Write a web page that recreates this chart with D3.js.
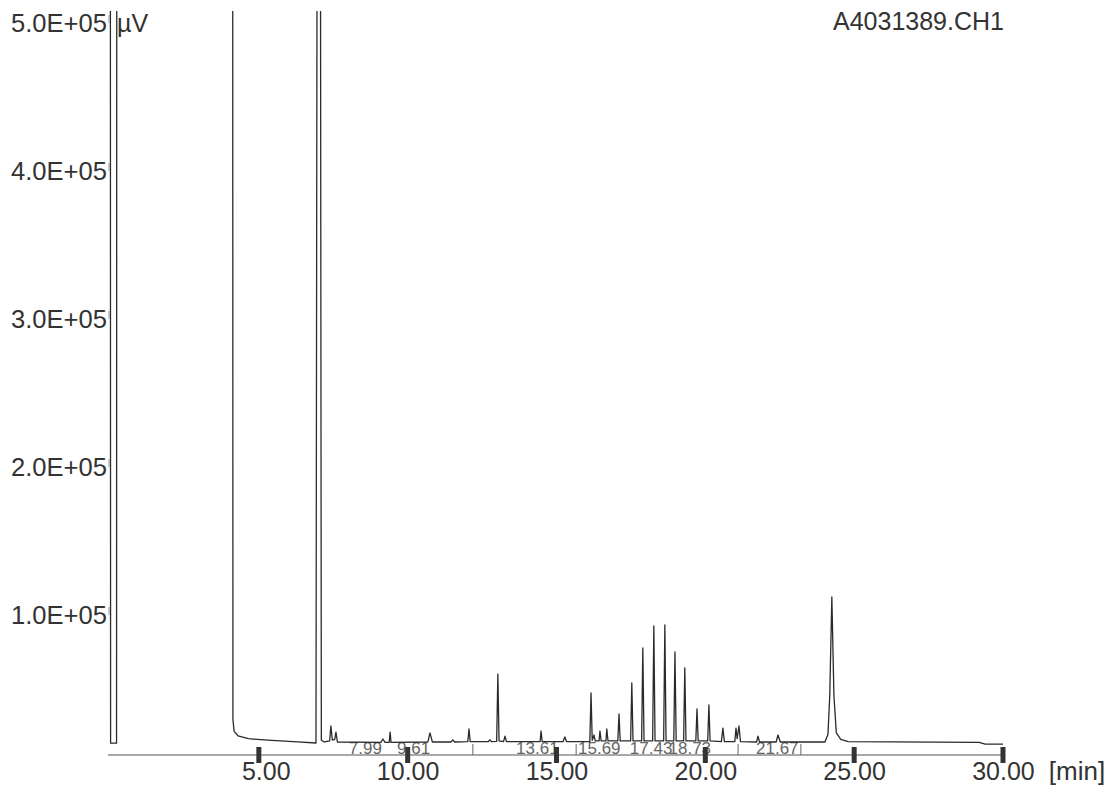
<!DOCTYPE html>
<html>
<head>
<meta charset="utf-8">
<script src="https://cdn.jsdelivr.net/npm/d3@7"></script>
<style>
   body { margin: 0; background: #fff; }
   svg { display: block; font-family: "Liberation Sans", Arial, sans-serif; }
</style>
</head>
<body>
<svg id="chart" width="1117" height="789"></svg>
<script>

// retention time (min) of each vertex
const traceTime = [
   0.00, 0.02, 0.22, 0.24, 4.11, 4.13, 4.17, 4.30, 4.65, 5.30, 6.30, 6.92,
   7.02, 7.10, 7.20, 7.38, 7.42, 7.47, 7.55, 7.59, 7.64,
   9.10, 9.17, 9.24, 9.38, 9.41, 9.44,
   10.68, 10.75, 10.83, 11.45, 11.52, 11.58, 12.02, 12.06, 12.10, 12.70, 12.76, 12.82,
   12.99, 13.03, 13.07, 13.22, 13.27, 13.32, 14.45, 14.48, 14.52, 15.22, 15.28, 15.34,
   16.12, 16.16, 16.20, 16.26, 16.30, 16.43, 16.46, 16.50, 16.66, 16.69, 16.73,
   17.06, 17.10, 17.14, 17.49, 17.53, 17.57, 17.86, 17.90, 17.94,
   18.23, 18.27, 18.31, 18.60, 18.64, 18.68, 18.94, 18.98, 19.02,
   19.27, 19.31, 19.35, 19.68, 19.72, 19.76, 20.08, 20.12, 20.16,
   20.54, 20.59, 20.64, 20.99, 21.03, 21.07, 21.13, 21.18,
   21.72, 21.77, 21.82, 22.38, 22.44, 22.52,
   24.02, 24.12, 24.18, 24.25, 24.32, 24.40, 24.55, 24.80, 29.20, 29.40, 30.00
];

// detector signal (µV) at the same vertices, off-scale peaks clipped at the top
const traceSignal = [
   1500000, 8000, 8000, 1500000, 1500000, 24000, 16000, 13000, 11000, 10000, 8800, 8100,
   1500000, 10000, 8800, 9500, 19600, 10100, 10500, 15500, 8800,
   8500, 10800, 8500, 8500, 15500, 8500,
   8800, 14900, 8800, 8800, 10100, 8800, 9000, 17600, 9000, 9000, 10100, 9000,
   9200, 54700, 9500, 9000, 12800, 9000, 9000, 16200, 9000, 9000, 12200, 9000,
   9000, 41900, 10000, 13500, 9500, 9500, 16200, 9500, 9500, 17600, 9500,
   9500, 27700, 9500, 9500, 48700, 9500, 9500, 72300, 9500,
   9500, 87200, 9500, 9500, 87900, 9500, 9500, 69600, 9500,
   9500, 58800, 9500, 9500, 31100, 9500, 9500, 33800, 9500,
   9000, 18200, 9000, 9000, 18200, 11000, 19600, 9000,
   8800, 12800, 8800, 8800, 13500, 8800,
   8800, 14000, 40000, 106800, 40000, 15000, 10500, 9000, 8500, 7400, 7400
];

const peakLabels = ['7.99', '9.61', '13.61', '15.69', '17.43', '18.73', '21.67'];
const eventMarks = [12.19, 15.66, 21.10, 23.21];

const xTicks = [5, 10, 15, 20, 25, 30];
const yTicks = [1e5, 2e5, 3e5, 4e5, 5e5];

const fileName = 'A4031389.CH1';

let x = d3.scaleLinear().domain([0, 30]).range([110, 1003]);
let y = d3.scaleLinear().domain([0, 5e5]).range([755, 15]);

let svg = d3.select('#chart');

svg.append('rect')
   .attr('width', 1117).attr('height', 789)
   .style('fill', '#fff');

svg.append('defs').append('clipPath').attr('id', 'plot')
   .append('rect')
   .attr('x', 100).attr('y', 11)
   .attr('width', 920).attr('height', 750);

// baseline / time axis
svg.append('line')
   .attr('x1', 108).attr('x2', x(30) + 2)
   .attr('y1', y(0)).attr('y2', y(0))
   .style('stroke', '#555')
   .style('stroke-width', 1.2);

// event marks in the label band
svg.selectAll('.event')
   .data(eventMarks).enter()
   .append('line').attr('class', 'event')
   .attr('x1', d => x(d)).attr('x2', d => x(d))
   .attr('y1', y(0) - 11).attr('y2', y(0))
   .style('stroke', '#666')
   .style('stroke-width', 1);

// retention time labels
svg.selectAll('.peak-label')
   .data(peakLabels).enter()
   .append('text').attr('class', 'peak-label')
   .text(d => d)
   .attr('x', d => x(+d) + 1)
   .attr('y', y(0) - 1)
   .style('font-size', '17px')
   .style('fill', '#666');

// chromatogram trace
let line = d3.line()
   .x(d => x(d[0]))
   .y(d => y(d[1]));

svg.append('path')
   .datum(d3.zip(traceTime, traceSignal))
   .attr('clip-path', 'url(#plot)')
   .attr('d', line)
   .style('fill', 'none')
   .style('stroke', '#2a2a2a')
   .style('stroke-width', 1.3)
   .style('stroke-linejoin', 'round');

// x ticks: short thick bars straddling the baseline
svg.selectAll('.xtick')
   .data(xTicks).enter()
   .append('rect').attr('class', 'xtick')
   .attr('x', d => x(d) - 2.5)
   .attr('y', y(0) - 8)
   .attr('width', 5)
   .attr('height', 16)
   .style('fill', '#333');

// x labels, decimal point sitting on the tick
svg.selectAll('.xlab-int')
   .data(xTicks).enter()
   .append('text').attr('class', 'xlab-int')
   .text(d => Math.floor(d))
   .attr('x', d => x(d) - 3)
   .attr('y', 780)
   .attr('text-anchor', 'end')
   .style('font-size', '25px')
   .style('fill', '#333');

let xDec = svg.selectAll('.xlab-dec')
   .data(xTicks).enter()
   .append('text').attr('class', 'xlab-dec')
   .attr('x', d => x(d) - 3)
   .attr('y', 780)
   .style('font-size', '25px')
   .style('fill', '#333');

xDec.append('tspan').text('.00');
xDec.filter(d => d === 30).append('tspan')
   .attr('dx', 14)
   .style('font-size', '26px')
   .text('[min]');

// y ticks and labels
svg.selectAll('.ytick')
   .data(yTicks).enter()
   .append('line').attr('class', 'ytick')
   .attr('x1', 109).attr('x2', 109)
   .attr('y1', d => y(d)).attr('y2', d => y(d) + 8)
   .style('stroke', '#999')
   .style('stroke-width', 1);

svg.selectAll('.ylab')
   .data(yTicks).enter()
   .append('text').attr('class', 'ylab')
   .text(d => (d / 1e5).toFixed(1) + 'E+05')
   .attr('x', 107)
   .attr('y', d => y(d) + 17)
   .attr('text-anchor', 'end')
   .attr('textLength', 96)
   .attr('lengthAdjust', 'spacingAndGlyphs')
   .style('font-size', '25px')
   .style('fill', '#333');

svg.append('text')
   .text('µV')
   .attr('x', 117)
   .attr('y', y(5e5) + 17)
   .style('font-size', '25px')
   .style('fill', '#333');

svg.append('text')
   .text(fileName)
   .attr('x', 833)
   .attr('y', 30)
   .style('font-size', '25px')
   .style('fill', '#333');

</script>
</body>
</html>
